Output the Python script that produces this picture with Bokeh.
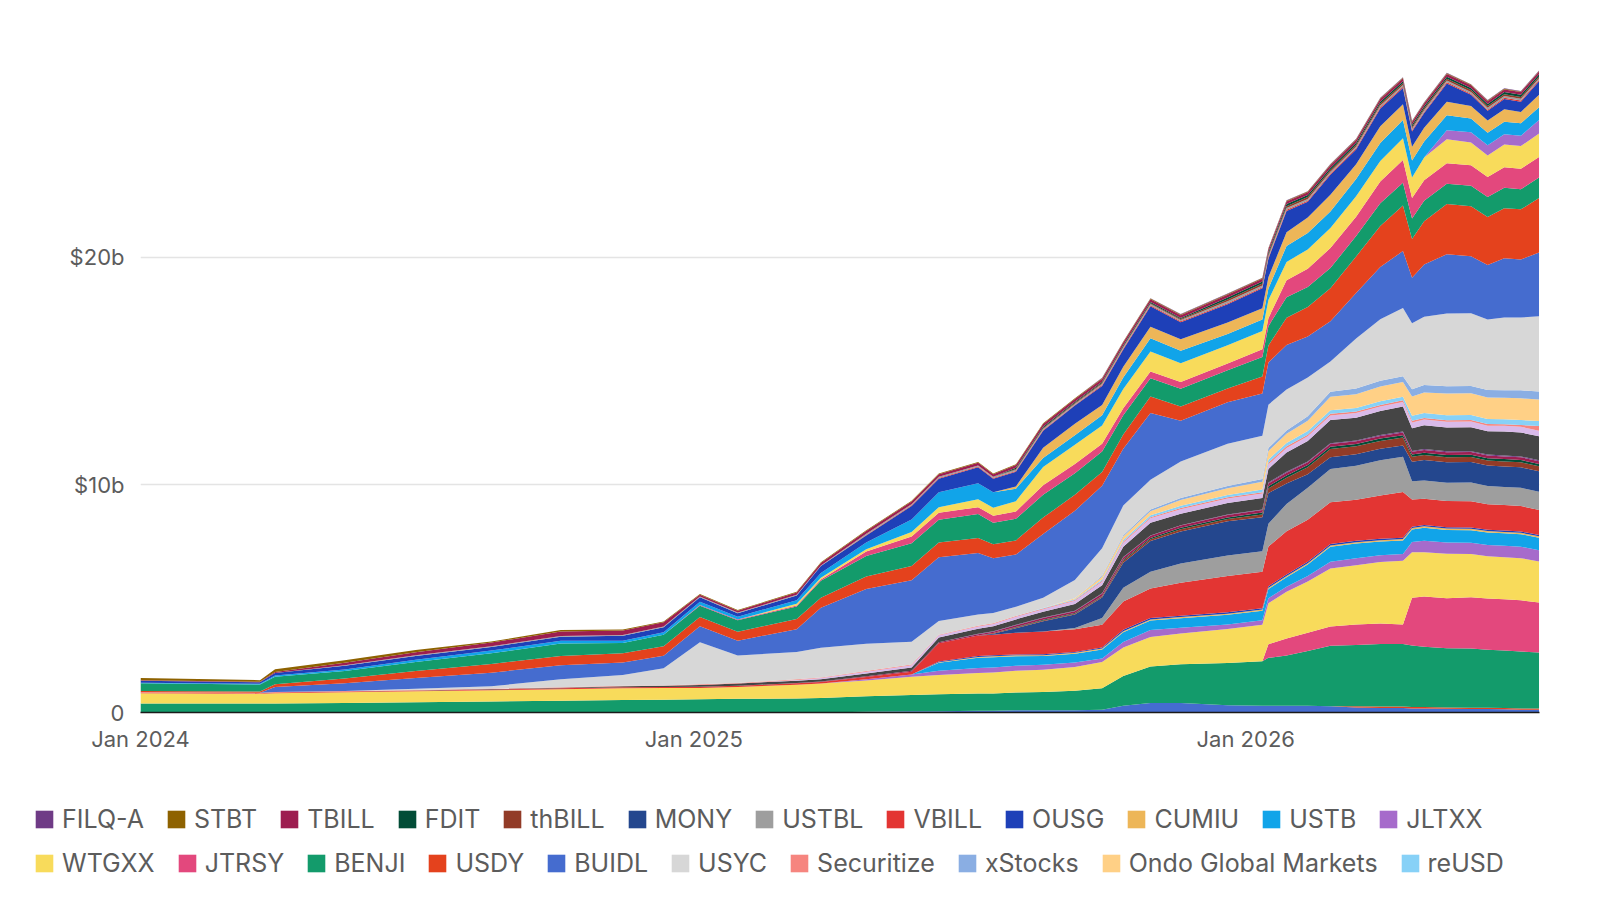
import pandas as pd
from bokeh.plotting import figure
from bokeh.layouts import column
from bokeh.models import ColumnDataSource, Range1d, FixedTicker, Legend, LegendItem
from bokeh.embed import file_html
from bokeh.resources import INLINE

# ---------------- data (values in $ billions) ----------------
dates = ["2024-01-01", "2024-03-20", "2024-03-30", "2024-05-15", "2024-07-01", "2024-08-20",
         "2024-10-05", "2024-11-15", "2024-12-12", "2025-01-05", "2025-01-30", "2025-03-10",
         "2025-03-26", "2025-04-25", "2025-05-25", "2025-06-12", "2025-07-08", "2025-07-18",
         "2025-08-02", "2025-08-20", "2025-09-10", "2025-09-28", "2025-10-12", "2025-10-30",
         "2025-11-19", "2025-12-20", "2026-01-12", "2026-01-16", "2026-01-28", "2026-02-11",
         "2026-02-26", "2026-03-15", "2026-03-31", "2026-04-15", "2026-04-21", "2026-04-29",
         "2026-05-14", "2026-05-30", "2026-06-10", "2026-06-21", "2026-07-02", "2026-07-14"]

tick_dates = ["2024-01-01", "2025-01-01", "2026-01-01"]
tick_labels = ["Jan 2024", "Jan 2025", "Jan 2026"]
y_ticks = [0, 10, 20]
y_labels = ["0", "$10b", "$20b"]

# lower block of the stack
buidl_lo = [0, 0, 0, 0, 0, 0, 0, 0, 0, 0, 0, 0, 0, 0.03, 0.05, 0.06, 0.08, 0.08, 0.10, 0.10, 0.10,
            0.12, 0.30, 0.42, 0.42, 0.32, 0.30, 0.30, 0.30, 0.30, 0.28, 0.22, 0.20, 0.20, 0.18, 0.18,
            0.16, 0.15, 0.15, 0.14, 0.12, 0.12]
usdy_lo = [0, 0, 0, 0, 0, 0, 0, 0, 0, 0, 0, 0, 0, 0, 0, 0, 0, 0, 0, 0, 0, 0, 0, 0, 0, 0, 0, 0, 0, 0,
           0, 0.05, 0.06, 0.06, 0.06, 0.06, 0.06, 0.06, 0.06, 0.06, 0.06, 0.06]
benji_lo = [0.40, 0.40, 0.40, 0.42, 0.45, 0.48, 0.52, 0.55, 0.56, 0.58, 0.60, 0.62, 0.64, 0.68, 0.72,
            0.74, 0.75, 0.76, 0.78, 0.80, 0.85, 0.95, 1.30, 1.60, 1.70, 1.85, 1.95, 2.10, 2.20, 2.40,
            2.65, 2.70, 2.75, 2.75, 2.70, 2.65, 2.60, 2.60, 2.55, 2.52, 2.50, 2.45]
jtrsy_lo = [0, 0, 0, 0, 0, 0, 0, 0, 0, 0, 0, 0, 0, 0, 0, 0, 0, 0, 0, 0, 0, 0, 0, 0, 0, 0, 0,
            0.60, 0.75, 0.80, 0.85, 0.90, 0.90, 0.85, 2.10, 2.20, 2.20, 2.25, 2.25, 2.25, 2.25, 2.20]
wtgxx_lo = [0.45, 0.42, 0.45, 0.47, 0.48, 0.50, 0.50, 0.52, 0.52, 0.50, 0.52, 0.60, 0.63, 0.70, 0.80,
            0.85, 0.90, 0.92, 0.95, 0.98, 1.05, 1.15, 1.25, 1.30, 1.35, 1.50, 1.60, 1.80, 2.05, 2.25,
            2.55, 2.60, 2.70, 2.80, 2.00, 1.95, 1.95, 1.90, 1.85, 1.85, 1.85, 1.80]
jltxx_lo = [0, 0, 0, 0, 0, 0, 0, 0, 0, 0, 0, 0, 0, 0.05, 0.10, 0.18, 0.22, 0.22, 0.22, 0.22, 0.20,
            0.15, 0.25, 0.30, 0.25, 0.20, 0.20, 0.22, 0.22, 0.25, 0.29, 0.30, 0.30, 0.30, 0.45, 0.50,
            0.50, 0.50, 0.50, 0.50, 0.50, 0.50]
ustb_lo = [0, 0, 0, 0, 0, 0, 0, 0, 0, 0, 0, 0, 0, 0, 0, 0.35, 0.45, 0.45, 0.42, 0.38, 0.38, 0.40,
           0.42, 0.42, 0.42, 0.42, 0.42, 0.40, 0.42, 0.50, 0.66, 0.65, 0.60, 0.60, 0.55, 0.58, 0.55,
           0.55, 0.55, 0.55, 0.55, 0.55]
cumiu_lo = [0, 0, 0, 0, 0, 0, 0, 0, 0, 0, 0, 0, 0, 0, 0, 0.03, 0.04, 0.04, 0.04, 0.04, 0.04, 0.04,
            0.05, 0.05, 0.05, 0.05, 0.05, 0.06, 0.06, 0.06, 0.06, 0.06, 0.06, 0.06, 0.06, 0.06, 0.06,
            0.06, 0.06, 0.06, 0.06, 0.06]
ousg_lo = [0, 0, 0, 0, 0, 0, 0, 0, 0, 0, 0, 0, 0, 0, 0, 0.03, 0.04, 0.04, 0.04, 0.04, 0.04, 0.04,
           0.06, 0.06, 0.06, 0.06, 0.06, 0.06, 0.06, 0.06, 0.06, 0.06, 0.06, 0.06, 0.06, 0.06, 0.06,
           0.06, 0.06, 0.06, 0.06, 0.06]
vbill_lo = [0.03, 0.03, 0.03, 0.03, 0.03, 0.03, 0.04, 0.04, 0.04, 0.05, 0.05, 0.06, 0.07, 0.10, 0.12,
            0.80, 0.90, 0.90, 0.95, 1.00, 1.00, 1.00, 1.25, 1.30, 1.45, 1.60, 1.60, 1.75, 1.90, 1.85,
            1.83, 1.80, 1.90, 2.00, 1.20, 1.15, 1.15, 1.15, 1.12, 1.12, 1.12, 1.10]
ustbl_lo = [0, 0, 0, 0, 0, 0, 0, 0, 0, 0, 0, 0, 0, 0, 0, 0, 0, 0, 0, 0, 0.05, 0.30, 0.60, 0.73,
            0.85, 0.90, 0.90, 1.00, 1.20, 1.40, 1.46, 1.50, 1.55, 1.55, 0.80, 0.80, 0.80, 0.82, 0.80,
            0.80, 0.80, 0.80]
mony_lo = [0, 0, 0, 0, 0, 0, 0, 0, 0, 0, 0, 0, 0, 0, 0, 0, 0, 0.05, 0.20, 0.45, 0.60, 0.90, 1.10,
           1.35, 1.40, 1.50, 1.50, 1.35, 0.90, 0.60, 0.52, 0.50, 0.50, 0.50, 0.85, 0.90, 0.90, 0.90,
           0.90, 0.90, 0.90, 0.90]
thbill_lo = [0, 0, 0, 0, 0, 0, 0, 0, 0, 0, 0, 0, 0, 0, 0, 0, 0, 0.03, 0.03, 0.03, 0.03, 0.04, 0.08,
             0.08, 0.10, 0.10, 0.12, 0.20, 0.25, 0.30, 0.36, 0.35, 0.35, 0.35, 0.22, 0.22, 0.22,
             0.22, 0.22, 0.22, 0.22, 0.22]
fdit_lo = [0, 0, 0, 0, 0, 0, 0, 0, 0, 0, 0, 0, 0, 0, 0, 0, 0, 0, 0.03, 0.03, 0.03, 0.03, 0.05, 0.05,
           0.06, 0.06, 0.08, 0.10, 0.10, 0.10, 0.10, 0.10, 0.10, 0.10, 0.10, 0.10, 0.10, 0.10, 0.10,
           0.10, 0.10, 0.10]
tbill_lo = [0, 0, 0, 0, 0, 0, 0, 0, 0, 0, 0, 0.02, 0.02, 0.03, 0.04, 0.05, 0.06, 0.06, 0.07, 0.08,
            0.08, 0.10, 0.10, 0.10, 0.10, 0.12, 0.12, 0.12, 0.12, 0.12, 0.12, 0.12, 0.12, 0.12, 0.12,
            0.12, 0.12, 0.12, 0.12, 0.12, 0.12, 0.12]
filq_lo = [0, 0, 0, 0, 0, 0, 0, 0, 0, 0, 0, 0, 0, 0, 0, 0, 0.02, 0.02, 0.02, 0.02, 0.02, 0.02, 0.02,
           0.02, 0.02, 0.02, 0.02, 0.04, 0.04, 0.04, 0.04, 0.04, 0.04, 0.04, 0.04, 0.04, 0.04, 0.04,
           0.04, 0.04, 0.04, 0.04]
other_lo = [0, 0, 0, 0, 0.01, 0.02, 0.03, 0.04, 0.05, 0.08, 0.10, 0.10, 0.10, 0.12, 0.15, 0.20, 0.22,
            0.22, 0.24, 0.25, 0.30, 0.35, 0.45, 0.55, 0.50, 0.50, 0.50, 0.60, 0.85, 0.90, 1.02, 1.00,
            1.05, 1.10, 1.00, 1.05, 1.05, 1.05, 1.02, 1.05, 1.05, 1.05]
other2_lo = [0, 0, 0, 0, 0, 0, 0, 0, 0, 0, 0, 0.03, 0.05, 0.08, 0.10, 0.10, 0.10, 0.10, 0.12, 0.12,
             0.14, 0.15, 0.18, 0.20, 0.20, 0.20, 0.20, 0.20, 0.20, 0.20, 0.20, 0.20, 0.20, 0.20,
             0.25, 0.25, 0.25, 0.25, 0.25, 0.25, 0.25, 0.25]
securitize = [0.02, 0.02, 0.02, 0.02, 0.02, 0.02, 0.02, 0.02, 0.02, 0.03, 0.03, 0.03, 0.03, 0.03,
              0.03, 0.03, 0.03, 0.03, 0.03, 0.03, 0.03, 0.05, 0.05, 0.05, 0.05, 0.05, 0.05, 0.07,
              0.07, 0.07, 0.07, 0.07, 0.07, 0.07, 0.07, 0.07, 0.07, 0.07, 0.07, 0.07, 0.08, 0.20]
reusd = [0, 0, 0, 0, 0, 0, 0, 0, 0, 0, 0, 0, 0, 0, 0, 0, 0, 0, 0, 0.02, 0.03, 0.05, 0.07, 0.08,
         0.10, 0.10, 0.12, 0.14, 0.15, 0.16, 0.16, 0.16, 0.16, 0.16, 0.22, 0.22, 0.22, 0.22, 0.22,
         0.22, 0.22, 0.22]
ondo_gm = [0, 0, 0, 0, 0, 0, 0, 0, 0, 0, 0, 0, 0, 0, 0, 0, 0, 0, 0, 0, 0.05, 0.12, 0.15, 0.18,
           0.25, 0.30, 0.35, 0.38, 0.40, 0.45, 0.59, 0.60, 0.65, 0.65, 0.85, 0.90, 0.95, 0.95, 0.95,
           0.95, 0.95, 0.95]
xstocks = [0, 0, 0, 0, 0, 0, 0, 0, 0, 0, 0, 0, 0, 0, 0, 0, 0, 0, 0, 0, 0, 0.05, 0.06, 0.08, 0.09,
           0.10, 0.12, 0.13, 0.15, 0.20, 0.22, 0.25, 0.25, 0.25, 0.32, 0.32, 0.32, 0.32, 0.32, 0.32,
           0.35, 0.35]

# upper block of the stack
usyc = [0, 0, 0, 0, 0.05, 0.10, 0.35, 0.48, 0.75, 1.85, 1.20, 1.20, 1.30, 1.20, 1.00, 0.60, 0.50,
        0.45, 0.40, 0.45, 0.80, 1.20, 1.30, 1.30, 1.60, 1.85, 1.90, 1.90, 1.80, 1.70, 1.33, 2.20,
        2.70, 3.00, 2.90, 3.00, 3.20, 3.20, 3.10, 3.20, 3.20, 3.30]
buidl_up = [0, 0, 0.22, 0.35, 0.48, 0.60, 0.62, 0.55, 0.55, 0.70, 0.65, 1.00, 1.76, 2.40, 2.70, 2.80,
            2.70, 2.40, 2.30, 2.80, 3.04, 2.75, 2.50, 2.94, 1.80, 1.83, 1.85, 1.85, 1.95, 1.80, 1.76,
            2.00, 2.30, 2.50, 2.00, 2.30, 2.60, 2.50, 2.40, 2.60, 2.55, 2.80]
usdy_up = [0.04, 0.05, 0.12, 0.20, 0.30, 0.38, 0.40, 0.40, 0.42, 0.40, 0.40, 0.45, 0.44, 0.55, 0.62,
           0.65, 0.66, 0.62, 0.62, 0.72, 0.70, 0.60, 0.62, 0.72, 0.62, 0.60, 0.75, 0.75, 1.20, 1.30,
           1.46, 1.60, 1.80, 2.00, 1.70, 1.90, 2.20, 2.20, 2.10, 2.20, 2.20, 2.40]
benji_up = [0.34, 0.31, 0.33, 0.33, 0.40, 0.47, 0.55, 0.45, 0.50, 0.50, 0.50, 0.55, 0.75, 0.90, 1.00,
            1.00, 1.05, 0.95, 0.95, 1.00, 0.95, 0.90, 0.85, 0.80, 0.78, 0.80, 0.85, 0.85, 0.90, 0.88,
            0.88, 0.90, 1.00, 1.00, 0.90, 0.90, 0.90, 0.90, 0.88, 0.90, 0.88, 0.90]
jtrsy_up = [0, 0, 0, 0, 0, 0, 0, 0, 0, 0.03, 0.03, 0.04, 0.05, 0.20, 0.30, 0.30, 0.30, 0.30, 0.32,
            0.42, 0.40, 0.35, 0.30, 0.30, 0.30, 0.30, 0.35, 0.35, 0.75, 0.80, 0.88, 0.85, 0.95, 1.00,
            0.90, 0.90, 0.90, 0.90, 0.88, 0.90, 0.90, 0.90]
wtgxx_up = [0, 0, 0, 0, 0, 0, 0, 0, 0, 0, 0, 0.08, 0.08, 0.10, 0.20, 0.25, 0.35, 0.35, 0.45, 0.80,
            0.85, 0.80, 0.85, 0.88, 0.82, 0.80, 0.80, 0.80, 0.80, 0.85, 0.88, 0.90, 0.90, 0.95, 0.90,
            1.00, 1.05, 1.00, 0.95, 1.00, 1.00, 1.03]
jltxx_up = [0, 0, 0, 0, 0, 0, 0, 0, 0, 0, 0, 0, 0, 0, 0, 0, 0, 0, 0, 0, 0, 0, 0, 0, 0, 0, 0, 0, 0,
            0, 0, 0, 0, 0, 0, 0, 0.40, 0.45, 0.45, 0.45, 0.45, 0.60]
ustb_up = [0.03, 0.03, 0.05, 0.07, 0.10, 0.12, 0.12, 0.10, 0.12, 0.15, 0.13, 0.15, 0.21, 0.30, 0.55,
           0.65, 0.70, 0.68, 0.55, 0.40, 0.42, 0.45, 0.50, 0.58, 0.55, 0.50, 0.50, 0.50, 0.70, 0.72,
           0.73, 0.75, 0.80, 0.80, 0.75, 0.70, 0.65, 0.60, 0.55, 0.55, 0.55, 0.55]
cumiu_up = [0, 0, 0, 0, 0, 0, 0, 0, 0, 0, 0, 0, 0, 0, 0, 0, 0, 0, 0.10, 0.45, 0.50, 0.45, 0.48, 0.50,
            0.50, 0.50, 0.50, 0.50, 0.60, 0.68, 0.73, 0.65, 0.73, 0.70, 0.60, 0.60, 0.60, 0.55, 0.53,
            0.55, 0.50, 0.55]
ousg_up = [0.09, 0.07, 0.11, 0.16, 0.16, 0.16, 0.18, 0.22, 0.22, 0.19, 0.15, 0.21, 0.30, 0.30, 0.59,
           0.60, 0.70, 0.60, 0.65, 0.75, 0.80, 0.83, 0.75, 0.90, 0.75, 0.80, 0.87, 0.81, 0.94, 0.69,
           0.88, 0.65, 0.78, 0.71, 0.67, 0.65, 0.80, 0.49, 0.43, 0.45, 0.45, 0.60]
vbill_up = [0, 0, 0, 0, 0, 0, 0, 0, 0, 0, 0, 0, 0, 0.03, 0.03, 0.03, 0.03, 0.03, 0.03, 0.03, 0.03,
            0.05, 0.05, 0.05, 0.05, 0.05, 0.05, 0.05, 0.05, 0.05, 0.05, 0.05, 0.05, 0.05, 0.05, 0.05,
            0.05, 0.05, 0.05, 0.05, 0.05, 0.05]
ustbl_up = [0, 0, 0, 0.03, 0.03, 0.03, 0.03, 0.03, 0.03, 0.03, 0.03, 0.03, 0.03, 0.05, 0.05, 0.05,
            0.05, 0.05, 0.05, 0.05, 0.05, 0.05, 0.05, 0.05, 0.05, 0.08, 0.08, 0.08, 0.08, 0.08, 0.08,
            0.08, 0.08, 0.08, 0.08, 0.08, 0.08, 0.08, 0.08, 0.08, 0.08, 0.08]
thbill_up = [0, 0, 0, 0, 0, 0, 0, 0, 0, 0, 0, 0, 0, 0, 0, 0, 0, 0, 0.04, 0.04, 0.04, 0.04, 0.04,
             0.04, 0.04, 0.08, 0.08, 0.08, 0.08, 0.08, 0.08, 0.08, 0.08, 0.08, 0.08, 0.08, 0.08,
             0.08, 0.08, 0.08, 0.08, 0.08]
fdit_up = [0, 0, 0, 0, 0, 0, 0, 0, 0, 0, 0, 0, 0, 0, 0, 0, 0, 0, 0.05, 0.05, 0.05, 0.05, 0.05, 0.05,
           0.05, 0.09, 0.09, 0.09, 0.09, 0.09, 0.09, 0.09, 0.09, 0.09, 0.09, 0.09, 0.09, 0.09, 0.09,
           0.09, 0.09, 0.09]
tbill_up = [0.02, 0.02, 0.05, 0.10, 0.14, 0.16, 0.20, 0.20, 0.18, 0.08, 0.08, 0.10, 0.11, 0.12, 0.12,
            0.12, 0.12, 0.12, 0.12, 0.12, 0.12, 0.12, 0.12, 0.12, 0.12, 0.12, 0.12, 0.12, 0.12, 0.12,
            0.12, 0.12, 0.12, 0.12, 0.12, 0.12, 0.12, 0.12, 0.12, 0.12, 0.12, 0.12]
stbt_up = [0.10, 0.07, 0.12, 0.12, 0.10, 0.05, 0.06, 0.05, 0.04, 0.03, 0.03, 0.03, 0.03, 0.03, 0.03,
           0.03, 0.03, 0.03, 0.03, 0.03, 0.03, 0.03, 0.03, 0.03, 0.03, 0.03, 0.03, 0.03, 0.03, 0.03,
           0.03, 0.03, 0.03, 0.03, 0.03, 0.03, 0.03, 0.03, 0.03, 0.03, 0.03, 0.03]
filq_up = [0, 0, 0, 0, 0, 0, 0, 0, 0, 0, 0, 0, 0, 0, 0, 0, 0, 0, 0, 0, 0, 0.02, 0.02, 0.02, 0.02,
           0.02, 0.02, 0.02, 0.02, 0.02, 0.02, 0.02, 0.02, 0.02, 0.02, 0.02, 0.02, 0.02, 0.02, 0.02,
           0.02, 0.02]

# ---------------- styling ----------------
COLORS = {
    "FILQ-A": "#6f3b86", "STBT": "#8e6200", "TBILL": "#9d1e50", "FDIT": "#024d37",
    "thBILL": "#923b27", "MONY": "#24478e", "USTBL": "#9e9e9e", "VBILL": "#e33533",
    "OUSG": "#1e40b8", "CUMIU": "#edb658", "USTB": "#11a4e9", "JLTXX": "#a66bcb",
    "WTGXX": "#f8db5b", "JTRSY": "#e3487d", "BENJI": "#139b6b", "USDY": "#e4421d",
    "BUIDL": "#456ccf", "USYC": "#d7d7d7", "Securitize": "#f6857f", "xStocks": "#8aaee3",
    "Ondo Global Markets": "#ffd086", "reUSD": "#87d1f7",
    "_other": "#454545", "_other2": "#d9baea",
}

# stacking order, bottom to top: (column, values, colour key)
stack = [
    ("buidl_lo", buidl_lo, "BUIDL"), ("usdy_lo", usdy_lo, "USDY"), ("benji_lo", benji_lo, "BENJI"),
    ("jtrsy_lo", jtrsy_lo, "JTRSY"), ("wtgxx_lo", wtgxx_lo, "WTGXX"), ("jltxx_lo", jltxx_lo, "JLTXX"),
    ("ustb_lo", ustb_lo, "USTB"), ("cumiu_lo", cumiu_lo, "CUMIU"), ("ousg_lo", ousg_lo, "OUSG"),
    ("vbill_lo", vbill_lo, "VBILL"), ("ustbl_lo", ustbl_lo, "USTBL"), ("mony_lo", mony_lo, "MONY"),
    ("thbill_lo", thbill_lo, "thBILL"), ("fdit_lo", fdit_lo, "FDIT"), ("tbill_lo", tbill_lo, "TBILL"),
    ("filq_lo", filq_lo, "FILQ-A"), ("other_lo", other_lo, "_other"), ("other2_lo", other2_lo, "_other2"),
    ("securitize", securitize, "Securitize"), ("reusd", reusd, "reUSD"),
    ("ondo_gm", ondo_gm, "Ondo Global Markets"), ("xstocks", xstocks, "xStocks"),
    ("usyc", usyc, "USYC"), ("buidl_up", buidl_up, "BUIDL"), ("usdy_up", usdy_up, "USDY"),
    ("benji_up", benji_up, "BENJI"), ("jtrsy_up", jtrsy_up, "JTRSY"), ("wtgxx_up", wtgxx_up, "WTGXX"),
    ("jltxx_up", jltxx_up, "JLTXX"), ("ustb_up", ustb_up, "USTB"), ("cumiu_up", cumiu_up, "CUMIU"),
    ("ousg_up", ousg_up, "OUSG"), ("vbill_up", vbill_up, "VBILL"), ("ustbl_up", ustbl_up, "USTBL"),
    ("thbill_up", thbill_up, "thBILL"), ("fdit_up", fdit_up, "FDIT"), ("tbill_up", tbill_up, "TBILL"),
    ("stbt_up", stbt_up, "STBT"), ("filq_up", filq_up, "FILQ-A"),
]

legend_row1 = ["FILQ-A", "STBT", "TBILL", "FDIT", "thBILL", "MONY", "USTBL", "VBILL", "OUSG",
               "CUMIU", "USTB", "JLTXX"]
legend_row2 = ["WTGXX", "JTRSY", "BENJI", "USDY", "BUIDL", "USYC", "Securitize", "xStocks",
               "Ondo Global Markets", "reUSD"]

# ---------------- main chart ----------------
t0 = pd.Timestamp("2024-01-01")
xdays = [(pd.Timestamp(d) - t0).days for d in dates]
tick_x = [(pd.Timestamp(d) - t0).days for d in tick_dates]

data = {"x": xdays}
for col, vals, _ in stack:
    data[col] = vals
source = ColumnDataSource(data)

FONT = "Inter"
TXT = "#5c5c5c"

p = figure(width=1600, height=760, output_backend="svg", toolbar_location=None,
           x_range=Range1d(0, 925.3), y_range=Range1d(0, 30),
           min_border_left=140, min_border_right=61, min_border_top=29, min_border_bottom=48)
p.outline_line_color = None
p.background_fill_color = "white"
p.border_fill_color = "white"
p.frame_align = False

p.varea_stack(stackers=[c for c, _, _ in stack], x="x", source=source,
              color=[COLORS[k] for _, _, k in stack])

p.xaxis.ticker = FixedTicker(ticks=tick_x)
p.xaxis.major_label_overrides = {t: l for t, l in zip(tick_x, tick_labels)}
p.xaxis.axis_line_color = "#1a1a1a"
p.xaxis.axis_line_width = 1.5
p.xaxis.major_tick_line_color = None
p.xaxis.minor_tick_line_color = None
p.xaxis.major_label_standoff = 7
p.xaxis.major_label_text_font = FONT
p.xaxis.major_label_text_font_size = "22px"
p.xaxis.major_label_text_color = TXT

p.yaxis.ticker = FixedTicker(ticks=y_ticks)
p.yaxis.major_label_overrides = {t: l for t, l in zip(y_ticks, y_labels)}
p.yaxis.axis_line_color = None
p.yaxis.major_tick_line_color = None
p.yaxis.minor_tick_line_color = None
p.yaxis.major_label_standoff = 10
p.yaxis.major_label_text_font = FONT
p.yaxis.major_label_text_font_size = "22px"
p.yaxis.major_label_text_color = TXT

p.xgrid.visible = False
p.ygrid.ticker = FixedTicker(ticks=y_ticks)
p.ygrid.grid_line_color = "#e4e4e4"
p.ygrid.grid_line_width = 1.5

# ---------------- legend strip ----------------
lg = figure(width=1600, height=136, output_backend="svg", toolbar_location=None,
            x_range=Range1d(0, 1), y_range=Range1d(0, 1),
            x_axis_location=None, y_axis_location=None,
            min_border_left=0, min_border_right=0, min_border_top=0, min_border_bottom=0)
lg.frame_align = False
lg.outline_line_color = None
lg.xgrid.visible = False
lg.ygrid.visible = False
lg.border_fill_color = "white"
lg.background_fill_color = "white"

# legend swatch renderers: zero-size areas placed outside the visible range
swatch = {}
for name in legend_row1 + legend_row2:
    swatch[name] = lg.varea(x=[2, 3], y1=[2, 2], y2=[2, 2], color=COLORS[name])


def make_legend(names, loc):
    items = [LegendItem(label=n, renderers=[swatch[n]]) for n in names]
    return Legend(items=items, location=loc, orientation="horizontal",
                  label_text_font=FONT, label_text_font_size="25px", label_text_color=TXT,
                  glyph_width=22, glyph_height=22, label_standoff=7, spacing=21,
                  label_height=30, padding=0, margin=0,
                  border_line_alpha=0, background_fill_alpha=0)


lg.add_layout(make_legend(legend_row1, (33, 62)))
lg.add_layout(make_legend(legend_row2, (33, 18)))

layout = column(p, lg, spacing=0)
open("out.html", "w").write(file_html(layout, INLINE))
